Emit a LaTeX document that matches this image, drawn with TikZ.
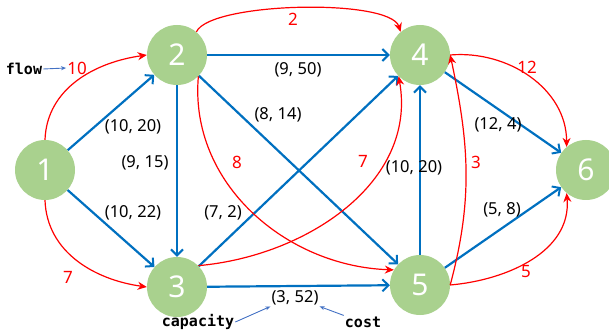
\documentclass[tikz,border=0pt]{standalone}
\usepackage{fontspec}
\setmainfont{Noto Sans}
\newfontfamily\monofam{DejaVu Sans Mono}
\usetikzlibrary{arrows.meta}
\definecolor{nodegreen}{RGB}{169,209,142}
\definecolor{edgeblue}{RGB}{0,112,192}
\definecolor{noteblue}{RGB}{68,114,196}
\definecolor{flowred}{RGB}{255,0,0}
\tikzset{
  vertex/.style={circle,fill=nodegreen,minimum size=60pt,inner sep=0pt,
    text=white,font=\fontsize{30}{30}\selectfont},
  arc/.style={draw=edgeblue,line width=2.2pt,
    -{Straight Barb[length=6pt,width=12pt,line width=2pt]}},
  flow/.style={draw=flowred,line width=1.2pt,
    -{Stealth[length=9pt,width=8pt]}},
  pair/.style={font=\fontsize{16.5}{16.5}\selectfont,text=black,inner sep=1pt},
  amount/.style={font=\fontsize{17}{17}\selectfont,text=flowred,inner sep=1pt},
  note/.style={font=\monofam\bfseries\fontsize{15}{15}\selectfont,inner sep=1pt},
  pointer/.style={draw=noteblue,line width=0.9pt,-{Stealth[length=5pt,width=4pt]}}
}
\begin{document}
\begin{tikzpicture}[x=1pt,y=-1pt]
\useasboundingbox (0,0) rectangle (609,336);

% vertices
\node[vertex] (n1) at (45,170) {1};
\node[vertex] (n2) at (177,55) {2};
\node[vertex] (n3) at (177,287) {3};
\node[vertex] (n4) at (420,55) {4};
\node[vertex] (n5) at (420,285) {5};
\node[vertex] (n6) at (586,170) {6};

% capacity / cost arcs
\draw[arc] (n1) -- (n2);
\draw[arc] (n1) -- (n3);
\draw[arc] (n2) -- (n4);
\draw[arc] (n2) -- (n3);
\draw[arc] (n2) -- (n5);
\draw[arc] (n3) -- (n4);
\draw[arc] (n3) -- (n5);
\draw[arc] (n5) -- (n4);
\draw[arc] (n4) -- (n6);
\draw[arc] (n5) -- (n6);

% flows
\draw[flow] (n1.north) to[out=88,in=188] (n2.west);
\draw[flow] (n1.south) to[out=-88,in=172] (n3.west);
\draw[flow] (n2.50) .. controls (210,2) and (390,-2) .. (n4.130);
\draw[flow] (n2.-45) to[out=-95,in=178] (n5.150);
\draw[flow] (n3.45) to[out=5,in=-80] (n4.-135);
\draw[flow] (n5.east) to[out=75,in=-78] (n4.east);
\draw[flow] (n4.east) to[out=5,in=90] (n6.130);
\draw[flow] (n5.east) to[out=5,in=-85] (n6.-130);

% arc labels (capacity, cost)
\node[pair] (l24) at (298,70) {(9, 50)};
\node[pair] (l12) at (133,127) {(10, 20)};
\node[pair] (l25) at (278,115) {(8, 14)};
\node[pair] (l23) at (145,163) {(9, 15)};
\node[pair] (l13) at (133,213) {(10, 22)};
\node[pair] (l34) at (223,213) {(7, 2)};
\node[pair] (l54) at (414,168) {(10, 20)};
\node[pair] (l46) at (498,125) {(12, 4)};
\node[pair] (l56) at (502,210) {(5, 8)};
\node[pair] (l35) at (295,298) {(3, 52)};

% flow amounts
\node[amount] (f12) at (77,68) {10};
\node[amount] (f13) at (68,277) {7};
\node[amount] (f24) at (293,19) {2};
\node[amount] (f25) at (237,162) {8};
\node[amount] (f34) at (363,161) {7};
\node[amount] (f54) at (476,162) {3};
\node[amount] (f46) at (527,67) {12};
\node[amount] (f56) at (526,272) {5};

% legend
\node[note] (flowtxt) at (24,69) {flow};
\node[note] (captxt) at (198,322) {capacity};
\node[note] (costtxt) at (363,322) {cost};
\draw[pointer] (flowtxt.east) -- (f12.west);
\draw[pointer] (captxt.east) -- (l35.south west);
\draw[pointer] (costtxt.north west) -- (l35.south east);
\end{tikzpicture}
\end{document}
